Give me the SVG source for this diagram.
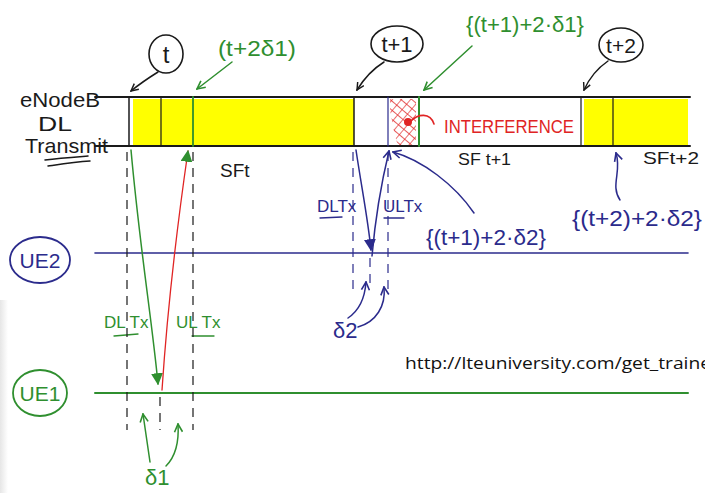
<svg xmlns="http://www.w3.org/2000/svg" width="705" height="493" viewBox="0 0 705 493">
<style>
text{font-family:"Liberation Sans",Arial,sans-serif}
.blk{fill:#1a1a1a}
.grn{fill:#2f8f2f}
.blu{fill:#2b2b8c}
.red{fill:#e02424}
.ln{fill:none;stroke-linecap:round;stroke-linejoin:round}
.bk{stroke:#1a1a1a}
.gs{stroke:#2f8f2f}
.bs{stroke:#2b2b8c}
.rs{stroke:#e02424}
.dash{fill:none;stroke-dasharray:9 7}
</style>
<defs>
<marker id="vk" viewBox="0 0 10 10" refX="9" refY="5" markerWidth="9" markerHeight="9" orient="auto" markerUnits="userSpaceOnUse"><path d="M1,1 L9,5 L1,9" fill="none" stroke="#1a1a1a" stroke-width="1.6"/></marker>
<marker id="vg" viewBox="0 0 10 10" refX="9" refY="5" markerWidth="10" markerHeight="10" orient="auto" markerUnits="userSpaceOnUse"><path d="M1,1 L9,5 L1,9" fill="none" stroke="#2f8f2f" stroke-width="1.6"/></marker>
<marker id="vb" viewBox="0 0 10 10" refX="9" refY="5" markerWidth="10" markerHeight="10" orient="auto" markerUnits="userSpaceOnUse"><path d="M1,1 L9,5 L1,9" fill="none" stroke="#2b2b8c" stroke-width="1.6"/></marker>
<marker id="tg" viewBox="0 0 10 10" refX="9" refY="5" markerWidth="12" markerHeight="12" orient="auto" markerUnits="userSpaceOnUse"><path d="M0,0 L10,5 L0,10 Z" fill="#2f8f2f"/></marker>
<marker id="tb" viewBox="0 0 10 10" refX="9" refY="5" markerWidth="12" markerHeight="12" orient="auto" markerUnits="userSpaceOnUse"><path d="M0,0 L10,5 L0,10 Z" fill="#2b2b8c"/></marker>
<pattern id="hatch" width="7" height="7" patternUnits="userSpaceOnUse" patternTransform="rotate(40)"><path d="M0,0 H7 M0,0 V7" stroke="#e02424" stroke-width="1.3" fill="none"/></pattern>
<linearGradient id="edge" x1="0" y1="0" x2="1" y2="0"><stop offset="0" stop-color="#e6e6e6"/><stop offset="1" stop-color="#ffffff"/></linearGradient>
</defs>
<rect width="705" height="493" fill="#ffffff"/>
<rect x="0" y="300" width="8" height="193" fill="url(#edge)"/>

<g id="enodeb">
<rect x="133" y="99" width="221" height="46" fill="#ffff00"/>
<rect x="584" y="99" width="104" height="46" fill="#ffff00"/>
<path d="M390,99 L416,99 L416,145 L398,145 C394,135 392,120 390,110 Z" fill="url(#hatch)"/>
<circle cx="408" cy="122" r="4" fill="#e02424"/>
<line x1="95" y1="97" x2="690" y2="97" class="ln bk" stroke-width="2"/>
<line x1="95" y1="146" x2="690" y2="146" class="ln bk" stroke-width="2"/>
<line x1="129" y1="97" x2="129" y2="146" class="ln bk" stroke-width="1.5"/>
<line x1="161" y1="97" x2="161" y2="146" class="ln bk" stroke-width="1.2"/>
<line x1="193" y1="97" x2="193" y2="146" class="ln gs" stroke-width="1.8"/>
<line x1="354" y1="97" x2="354" y2="146" class="ln bk" stroke-width="1.5"/>
<line x1="388" y1="97" x2="388" y2="146" class="ln bs" stroke-width="1.2"/>
<line x1="419" y1="97" x2="419" y2="146" class="ln gs" stroke-width="2"/>
<line x1="581" y1="97" x2="581" y2="146" class="ln bk" stroke-width="1.2"/>
<line x1="613" y1="97" x2="613" y2="146" class="ln bk" stroke-width="1.2"/>
<text x="20" y="107" font-size="21" class="blk" textLength="80" lengthAdjust="spacingAndGlyphs">eNodeB</text>
<text x="38" y="131" font-size="21" class="blk" textLength="34" lengthAdjust="spacingAndGlyphs">DL</text>
<text x="25" y="153" font-size="21" class="blk" textLength="83" lengthAdjust="spacingAndGlyphs">Transmit</text>
<path d="M45,160 C60,158 75,157 88,156 M48,166 C62,164 75,162 90,161" class="ln bk" stroke-width="1.5"/>
<text x="444" y="133" font-size="19" class="red" textLength="130" lengthAdjust="spacingAndGlyphs">INTERFERENCE</text>
<text x="220" y="177" font-size="19" class="blk">SFt</text>
<text x="458" y="165" font-size="17" class="blk" textLength="53" lengthAdjust="spacingAndGlyphs">SF t+1</text>
<text x="643" y="164" font-size="17" class="blk" textLength="56" lengthAdjust="spacingAndGlyphs">SFt+2</text>
</g>

<g id="ue2">
<line x1="95" y1="253" x2="688" y2="253" class="ln bs" stroke-width="1.6"/>
<ellipse cx="40" cy="260" rx="30" ry="23" fill="none" class="bs" stroke-width="1.8"/>
<text x="40" y="268" font-size="21" text-anchor="middle" class="blu">UE2</text>
</g>

<g id="ue1">
<line x1="95" y1="393" x2="688" y2="393" class="ln gs" stroke-width="2"/>
<ellipse cx="40" cy="393" rx="27" ry="23" fill="none" class="gs" stroke-width="1.8"/>
<text x="40" y="401" font-size="21" text-anchor="middle" class="grn">UE1</text>
</g>

<g id="label-t">
<ellipse cx="166" cy="54" rx="17" ry="19" fill="none" class="bk" stroke-width="1.6"/>
<text x="166" y="63" font-size="24" text-anchor="middle" class="blk">t</text>
</g>
<g id="label-t1">
<ellipse cx="397" cy="44" rx="26" ry="18" fill="none" class="bk" stroke-width="1.6"/>
<text x="397" y="52" font-size="22" text-anchor="middle" class="blk">t+1</text>
</g>
<g id="label-t2">
<ellipse cx="621" cy="45" rx="22" ry="17" fill="none" class="bk" stroke-width="1.6"/>
<text x="621" y="53" font-size="21" text-anchor="middle" class="blk">t+2</text>
</g>
<g id="label-green">
<text x="218" y="56" font-size="22" class="grn" textLength="78" lengthAdjust="spacingAndGlyphs">(t+2δ1)</text>
<text x="466" y="32" font-size="22" class="grn" textLength="118" lengthAdjust="spacingAndGlyphs">{(t+1)+2·δ1}</text>
<text x="104" y="328" font-size="17" class="grn">DL Tx</text>
<path d="M114,336 L138,334" class="ln gs" stroke-width="1.3"/>
<text x="176" y="328" font-size="17" class="grn">UL Tx</text>
<path d="M192,336 L214,336" class="ln gs" stroke-width="1.3"/>
<text x="145" y="485" font-size="22" class="grn">δ1</text>
</g>
<g id="label-blue">
<text x="317" y="212" font-size="17" class="blu">DLTx</text>
<path d="M320,218 L342,217" class="ln bs" stroke-width="1.3"/>
<text x="383" y="212" font-size="17" class="blu">ULTx</text>
<path d="M384,218 L404,218" class="ln bs" stroke-width="1.3"/>
<text x="426" y="245" font-size="22" class="blu" textLength="120" lengthAdjust="spacingAndGlyphs">{(t+1)+2·δ2}</text>
<text x="572" y="226" font-size="22" class="blu" textLength="130" lengthAdjust="spacingAndGlyphs">{(t+2)+2·δ2}</text>
<text x="333" y="338" font-size="22" class="blu">δ2</text>
</g>
<g id="url">
<text x="405" y="369" font-size="17" textLength="306" lengthAdjust="spacingAndGlyphs" style="font-family:'Open Sans','Liberation Sans',sans-serif" fill="#111">http://lteuniversity.com/get_traine</text>
</g>

<g id="connectors">
<line x1="127" y1="152" x2="127" y2="430" class="dash bk" stroke-width="1.2"/>
<line x1="193" y1="152" x2="193" y2="430" class="dash bk" stroke-width="1.2"/>
<line x1="160" y1="397" x2="160" y2="430" class="dash bk" stroke-width="1.2"/>
<line x1="353" y1="152" x2="353" y2="290" class="dash bs" stroke-width="1.2"/>
<line x1="370" y1="258" x2="370" y2="285" class="dash bs" stroke-width="1.2"/>
<line x1="388" y1="152" x2="388" y2="290" class="dash bs" stroke-width="1.2"/>
<path d="M158,72 Q142,82 131,91" class="ln bk" stroke-width="1.5" marker-end="url(#vk)"/>
<path d="M384,62 Q368,72 357,90" class="ln bk" stroke-width="1.5" marker-end="url(#vk)"/>
<path d="M608,61 Q592,72 584,90" class="ln bk" stroke-width="1.5" marker-end="url(#vk)"/>
<path d="M232,62 L197,89" class="ln gs" stroke-width="1.5" marker-end="url(#vg)"/>
<path d="M472,46 L424,90" class="ln gs" stroke-width="1.5" marker-end="url(#vg)"/>
<path d="M131,150 C140,250 152,320 158,384" class="ln gs" stroke-width="1.5" marker-end="url(#tg)"/>
<path d="M162,390 C168,300 178,220 188,151" class="ln rs" stroke-width="1.3" marker-end="url(#tg)"/>
<path d="M356,150 C362,190 368,220 371,250" class="ln bs" stroke-width="1.5" marker-end="url(#tb)"/>
<path d="M372,256 C376,210 382,180 389,151" class="ln bs" stroke-width="1.5" marker-end="url(#vb)"/>
<path d="M474,213 C455,185 422,160 393,152" class="ln bs" stroke-width="1.5" marker-end="url(#vb)"/>
<path d="M620,200 C610,185 622,172 616,153" class="ln bs" stroke-width="1.5" marker-end="url(#vb)"/>
<path d="M411,121 C418,114 430,112 434,124" class="ln rs" stroke-width="1.6"/>
<path d="M150,462 L143,414" class="ln gs" stroke-width="1.5" marker-end="url(#vg)"/>
<path d="M166,466 C177,455 179,440 178,424" class="ln gs" stroke-width="1.5" marker-end="url(#vg)"/>
<path d="M348,318 C360,310 365,296 366,282" class="ln bs" stroke-width="1.5" marker-end="url(#vb)"/>
<path d="M358,327 C376,322 386,306 384,287" class="ln bs" stroke-width="1.5" marker-end="url(#vb)"/>
</g>
</svg>
